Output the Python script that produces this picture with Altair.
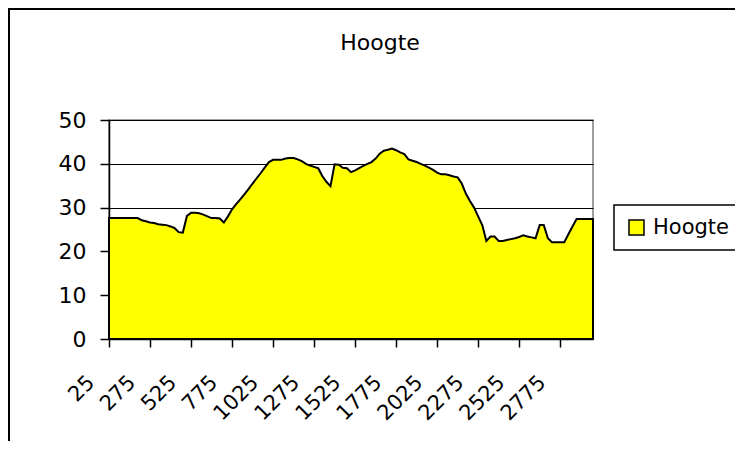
import altair as alt
import pandas as pd

# Distance categories (25 .. 2975, step 25) and heights
afstand = list(range(25, 3000, 25))
hoogte = [
    27.6, 27.6, 27.6, 27.6, 27.6, 27.6, 27.6, 27.6, 27.1, 26.9,
    26.6, 26.5, 26.2, 26.1, 26.0, 25.7, 25.3, 24.4, 24.3, 28.1,
    28.8, 28.8, 28.7, 28.4, 28.0, 27.6, 27.6, 27.5, 26.6, 28.0,
    29.6, 30.8, 31.9, 33.0, 34.2, 35.5, 36.7, 37.9, 39.2, 40.4,
    40.9, 40.9, 40.9, 41.2, 41.3, 41.3, 41.0, 40.6, 40.0, 39.6,
    39.3, 39.0, 37.2, 35.9, 34.9, 39.9, 39.8, 39.1, 39.0, 38.1,
    38.5, 39.0, 39.5, 40.0, 40.4, 41.2, 42.3, 43.0, 43.2, 43.5,
    43.1, 42.6, 42.2, 41.0, 40.7, 40.4, 40.0, 39.6, 39.1, 38.6,
    38.0, 37.6, 37.6, 37.4, 37.1, 36.9, 35.5, 33.2, 31.5, 30.0,
    28.0, 26.0, 22.4, 23.4, 23.4, 22.4, 22.4, 22.6, 22.8, 23.0,
    23.3, 23.7, 23.4, 23.2, 23.0, 26.0, 26.0, 23.0, 22.1, 22.1,
    22.1, 22.1, 23.9, 25.7, 27.4, 27.4, 27.4, 27.4, 27.4,
]
serie = "Hoogte"
titel = "Hoogte"
x_ticks = list(range(25, 3000, 250))
y_ticks = [0, 10, 20, 30, 40, 50]

df = pd.DataFrame({"afstand": afstand, "hoogte": hoogte, "serie": serie})

FONT = "DejaVu Sans"

area = alt.Chart(df).mark_area(stroke="black", strokeWidth=2, opacity=1).encode(
    x=alt.X(
        "afstand:Q",
        scale=alt.Scale(domain=[25, 2975], nice=False, zero=False),
        axis=alt.Axis(
            values=x_ticks, format="d", title=None, grid=False,
            labelAngle=-45, labelAlign="right", labelBaseline="middle",
            labelOffset=-18, labelPadding=32, tickSize=8,
            labelFontSize=21, labelFont=FONT, labelColor="black",
            domainColor="black", tickColor="black", domainWidth=1.5, tickWidth=1.5,
            labelOverlap=False, labelFlush=False,
        ),
    ),
    y=alt.Y(
        "hoogte:Q",
        scale=alt.Scale(domain=[0, 50], nice=False),
        axis=alt.Axis(
            values=y_ticks, title=None, grid=True, gridColor="black", gridWidth=1,
            tickSize=9, labelPadding=14, labelFontSize=22, labelFont=FONT,
            labelColor="black", domainColor="black", tickColor="black",
            domainWidth=1.5, tickWidth=1.5,
        ),
    ),
    color=alt.Color(
        "serie:N",
        scale=alt.Scale(range=["#FFFF00"]),
        legend=alt.Legend(
            title=None, orient="none", legendX=505, legendY=85,
            symbolType="square", symbolSize=225, symbolStrokeColor="black",
            symbolStrokeWidth=1.5, labelFontSize=21, labelFont=FONT,
            labelColor="black", labelOffset=6, padding=12,
            strokeColor="black", fillColor="white",
        ),
    ),
)

frame = alt.Chart(pd.DataFrame({"k": [0]})).mark_rect(
    filled=False, stroke="black", strokeWidth=2
).encode(
    x=alt.value(-100), x2=alt.value(900), y=alt.value(-111), y2=alt.value(700)
)

title_text = alt.Chart(pd.DataFrame({"t": [titel]})).mark_text(
    font=FONT, fontSize=22, color="black", align="center", baseline="alphabetic"
).encode(
    text="t:N", x=alt.value(271), y=alt.value(-70)
)

chart = alt.layer(frame, area, title_text).properties(
    width=484,
    height=219,
    autosize=alt.AutoSizeParams(type="none"),
    padding={"left": 101, "top": 112, "right": 142, "bottom": 102},
).configure_view(stroke="#808080", strokeWidth=1.5).configure_legend(strokeWidth=1.5)

chart.save("out.html", embed_options={"renderer": "svg", "actions": False})
